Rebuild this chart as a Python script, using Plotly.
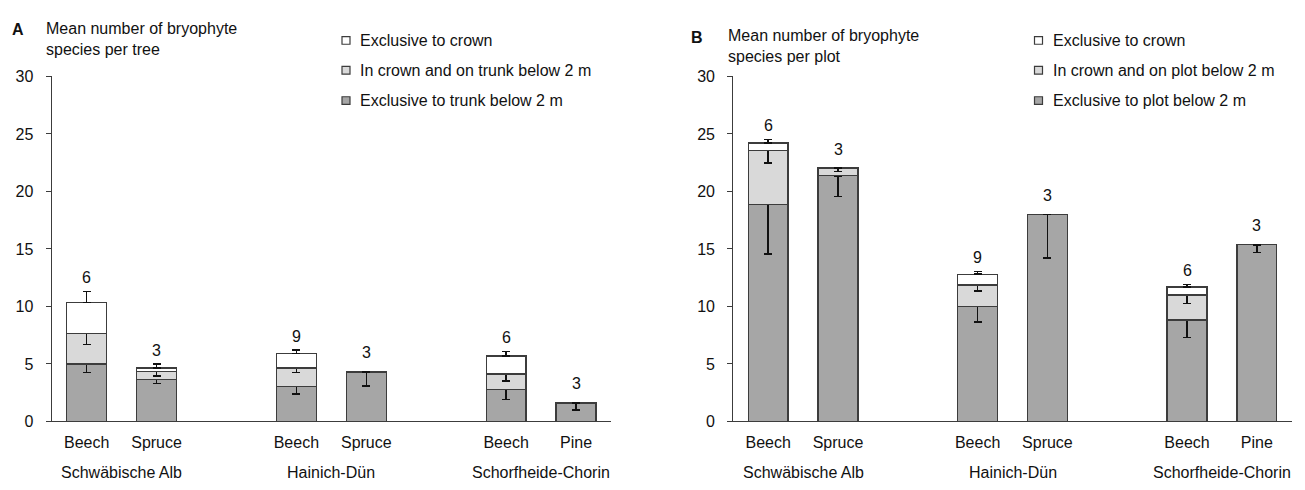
import plotly.graph_objects as go

# page is 1305x490; plotly's html body has an 8px default margin
PAGE_W, PAGE_H = 1305, 490
OFF = 8
W, H = PAGE_W - OFF, PAGE_H - OFF

# ---------------- data ----------------
regions = ["Schwäbische Alb", "Hainich-Dün", "Schorfheide-Chorin"]
species = ["Beech", "Spruce", "Beech", "Spruce", "Beech", "Pine"]
region_idx = [0, 0, 1, 1, 2, 2]
n_plots = [6, 3, 9, 3, 6, 3]

# Panel A: mean number of bryophyte species per tree (segment heights)
a_trunk = [4.99, 3.66, 3.07, 4.31, 2.79, 1.61]
a_trunk_err = [0.74, 0.36, 0.68, 1.24, 0.90, 0.62]
a_both = [2.64, 0.68, 1.58, 0, 1.35, 0]
a_both_err = [0.93, 0.37, 0.40, 0, 0.62, 0]
a_crown = [2.71, 0.31, 1.24, 0, 1.55, 0]
a_crown_err = [0.98, 0.34, 0.31, 0, 0.39, 0]

# Panel B: mean number of bryophyte species per plot (segment heights)
b_plot = [18.86, 21.36, 10.01, 18.02, 8.83, 15.36]
b_plot_err = [4.29, 1.80, 1.35, 3.81, 1.52, 0.67]
b_both = [4.68, 0.67, 1.87, 0, 2.16, 0]
b_both_err = [1.06, 0.31, 0.53, 0, 0.73, 0]
b_crown = [0.68, 0, 0.93, 0, 0.70, 0]
b_crown_err = [0.30, 0, 0.25, 0, 0.22, 0]

y_ticks = [0, 5, 10, 15, 20, 25, 30]

names_a = ["Exclusive to trunk below 2 m", "In crown and on trunk below 2 m", "Exclusive to crown"]
names_b = ["Exclusive to plot below 2 m", "In crown and on plot below 2 m", "Exclusive to crown"]
fills = ["#a6a6a6", "#d9d9d9", "#ffffff"]

# ---------------- style ----------------
FONT = "Liberation Sans, Arial, sans-serif"
TXT = "#111111"
LINE = "#3c3c3c"

# x position of each bar: 3 slots per region (2 bars + gap)
xpos = [r * 3 + (i % 2) for i, r in enumerate(region_idx)]


def px_x(p):
    return (p - OFF) / W


def px_y(p):
    return 1 - (p - OFF) / H


def nz(v):
    return [None if t == 0 else t for t in v]


fig = go.Figure()


def add_panel(xa, ya, segs, errs, names):
    for k, (vals, e, nm, col) in enumerate(zip(segs, errs, names, fills)):
        top = (k == 2)
        ey = dict(type="data", symmetric=False,
                  array=(e if top else [0] * len(e)),
                  arrayminus=([0] * len(e) if top else e),
                  width=4, thickness=1.4, color=TXT)
        fig.add_trace(go.Bar(
            x=xpos, y=nz(vals), name=nm, width=0.57,
            marker=dict(color=col, line=dict(color=LINE, width=1.3)),
            error_y=ey, xaxis=xa, yaxis=ya, showlegend=False,
            hoverinfo="skip"))


add_panel("x", "y", [a_trunk, a_both, a_crown], [a_trunk_err, a_both_err, a_crown_err], names_a)
add_panel("x2", "y2", [b_plot, b_both, b_crown], [b_plot_err, b_both_err, b_crown_err], names_b)

annotations = []
# sample size labels
for xr, yr, segs, top_err in (("x", "y", [a_trunk, a_both, a_crown], a_crown_err),
                              ("x2", "y2", [b_plot, b_both, b_crown], b_crown_err)):
    for i in range(len(species)):
        total = segs[0][i] + segs[1][i] + segs[2][i]
        yv = total + top_err[i]
        annotations.append(dict(x=xpos[i], y=yv, xref=xr, yref=yr, text=str(n_plots[i]),
                                showarrow=False, yanchor="middle",
                                yshift=(14 if top_err[i] > 0 else 19),
                                font=dict(size=16, color=TXT, family=FONT)))
# region labels
for xr in ("x", "x2"):
    for r, nm in enumerate(regions):
        xs = [xpos[i] for i in range(len(species)) if region_idx[i] == r]
        annotations.append(dict(x=sum(xs) / len(xs), y=px_y(481), xref=xr, yref="paper",
                                text=nm, showarrow=False, yanchor="middle",
                                font=dict(size=16, color=TXT, family=FONT)))

# panel letters and titles
annotations += [
    dict(x=px_x(10), y=px_y(21.7), xref="paper", yref="paper", text="<b>A</b>",
         showarrow=False, xanchor="left", yanchor="middle",
         font=dict(size=16, color=TXT, family=FONT)),
    dict(x=px_x(44), y=px_y(31.7), xref="paper", yref="paper",
         text="Mean number of bryophyte<br>species per tree", align="left",
         showarrow=False, xanchor="left", yanchor="middle",
         font=dict(size=16, color=TXT, family=FONT)),
    dict(x=px_x(689), y=px_y(30), xref="paper", yref="paper", text="<b>B</b>",
         showarrow=False, xanchor="left", yanchor="middle",
         font=dict(size=16, color=TXT, family=FONT)),
    dict(x=px_x(726), y=px_y(39.5), xref="paper", yref="paper",
         text="Mean number of bryophyte<br>species per plot", align="left",
         showarrow=False, xanchor="left", yanchor="middle",
         font=dict(size=16, color=TXT, family=FONT)),
]

# manual legends (top entry = crown, bottom = trunk/plot)
shapes = []
rows_y = [33.3, 64.3, 95.7]
for sq_x, txt_x, names in ((346, 358, names_a), (1038.5, 1051, names_b)):
    for row, k in enumerate([2, 1, 0]):
        cy = rows_y[row]
        shapes.append(dict(type="rect", xref="paper", yref="paper",
                           x0=px_x(sq_x - 4), x1=px_x(sq_x + 4),
                           y0=px_y(cy + 4), y1=px_y(cy - 4),
                           fillcolor=fills[k], line=dict(color=LINE, width=1.2)))
        annotations.append(dict(x=px_x(txt_x), y=px_y(cy), xref="paper", yref="paper",
                                text=names[k], showarrow=False, xanchor="left",
                                yanchor="middle",
                                font=dict(size=16, color=TXT, family=FONT)))

xcommon = dict(range=[-0.5, 7.5], tickmode="array", tickvals=xpos, ticktext=species,
               showline=True, linecolor=LINE, linewidth=1.3, ticks="", showgrid=False,
               zeroline=False, tickfont=dict(size=16, color=TXT, family=FONT),
               ticklabelstandoff=6, fixedrange=True)
ycommon = dict(range=[0, 30], tickmode="array", tickvals=y_ticks, showline=True,
               linecolor=LINE, linewidth=1.3, ticks="outside", ticklen=5,
               tickcolor=LINE, tickwidth=1.3, showgrid=False, zeroline=False,
               tickfont=dict(size=16, color=TXT, family=FONT), ticklabelstandoff=9,
               domain=[px_y(428.3), px_y(70.7)], fixedrange=True)

fig.update_layout(
    width=W, height=H, margin=dict(l=0, r=0, t=0, b=0),
    paper_bgcolor="white", plot_bgcolor="white", barmode="stack",
    showlegend=False,
    xaxis=dict(xcommon, domain=[px_x(51.7), px_x(611)], anchor="y"),
    yaxis=dict(ycommon, anchor="x"),
    xaxis2=dict(xcommon, domain=[px_x(733.3), px_x(1291.7)], anchor="y2"),
    yaxis2=dict(ycommon, anchor="x2"),
    annotations=annotations, shapes=shapes,
    font=dict(family=FONT, color=TXT, size=16),
)

fig.write_html("out.html")
